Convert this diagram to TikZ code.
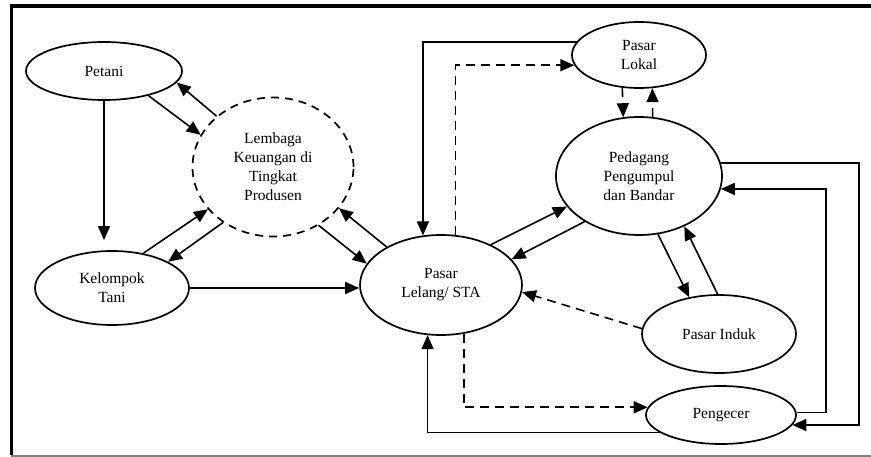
\documentclass[tikz,border=0pt]{standalone}
\usepackage{fontspec}
\setmainfont{Liberation Serif}
\usetikzlibrary{shapes.geometric,arrows.meta}

\begin{document}
\begin{tikzpicture}[x=1pt,y=-1pt,
  pelaku/.style={draw,ellipse,line width=1.7pt,inner sep=0pt,align=center,
    font=\fontsize{15.5}{19}\selectfont},
  garis/.style={line width=1.6pt,-{Triangle[length=14pt,width=12pt]}},
  putus/.style={garis,dash pattern=on 9pt off 6pt}]
\useasboundingbox (0,0) rectangle (871,457);
\draw[line width=3.5pt] (10,6) -- (871,6);
\draw[line width=3.5pt] (11.5,4.25) -- (11.5,455);
\draw[line width=1.2pt,gray] (11,456) -- (871,456);

\node[pelaku,minimum width=156pt,minimum height=58pt] (petani) at (104,71) {Petani};
\node[pelaku,dash pattern=on 8pt off 6pt,minimum width=161pt,minimum height=139pt] (lembaga) at (273,167) {Lembaga\\Keuangan di\\Tingkat\\Produsen};
\node[pelaku,minimum width=154pt,minimum height=74pt] (kelompok) at (112,288) {Kelompok\\Tani};
\node[pelaku,minimum width=162pt,minimum height=100pt] (lelang) at (441,285) {Pasar\\Lelang/ STA};
\node[pelaku,minimum width=134pt,minimum height=66pt] (lokal) at (639,55) {Pasar\\Lokal};
\node[pelaku,minimum width=166pt,minimum height=118pt] (pedagang) at (639,176) {Pedagang\\Pengumpul\\dan Bandar};
\node[pelaku,minimum width=154pt,minimum height=78pt] (induk) at (719,334) {Pasar Induk};
\node[pelaku,minimum width=150pt,minimum height=58pt] (pengecer) at (721,415) {Pengecer};
\coordinate (luar) at (859,0);
\coordinate (dalam) at (826,0);

\draw[garis,shorten >=10pt] (petani.south) -- (petani.south |- kelompok.north);
\draw[garis] (petani.-29) -- (lembaga.156);
\draw[garis] (lembaga.138) -- (petani.-9);
\draw[garis] (kelompok.48) -- (lembaga.213);
\draw[garis] (lembaga.228) -- (kelompok.25);
\draw[garis] (lembaga.-52) -- (lelang.164);
\draw[garis] (lelang.145) -- (lembaga.-32);
\draw[garis] (kelompok.east) -- (kelompok.east -| lelang.west);
\draw[garis] (lokal.168) -| (lelang.110);
\draw[putus] (lelang.74) |- (lokal.189);
\draw[putus] (lokal.243) -- (pedagang.105);
\draw[putus] (pedagang.77) -- (lokal.-68);
\draw[garis] (lelang.39) -- (pedagang.203);
\draw[garis] (pedagang.220) -- (lelang.20);
\draw[garis] (pedagang.-72) -- (induk.129);
\draw[garis] (induk.92) -- (pedagang.-48);
\draw[putus] (induk.176) -- (lelang.-5);
\draw[putus] (lelang.-65) |- (pengecer.174);
\draw[garis] (pengecer.196) -| (lelang.255);
\draw[garis] (pedagang.9) -- (pedagang.9 -| luar) |- (pengecer.-8);
\draw[garis] (pengecer.2) -- (pengecer.2 -| dalam) |- (pedagang.-9);
\end{tikzpicture}
\end{document}
